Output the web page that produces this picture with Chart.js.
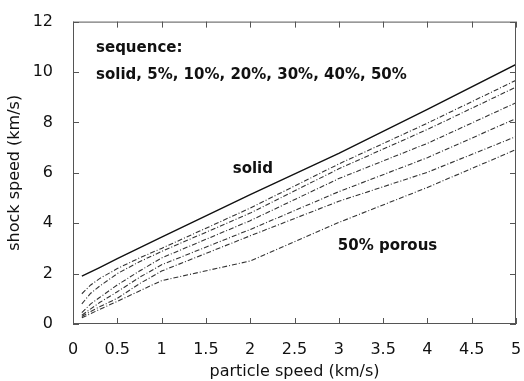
<!DOCTYPE html>
<html>
<head>
<meta charset="utf-8">
<script src="https://cdn.jsdelivr.net/npm/chart.js@4.4.0/dist/chart.umd.min.js"></script>
<style>
  html, body { margin: 0; padding: 0; background: #fff; }
  #wrap { width: 524px; height: 381px; }
</style>
</head>
<body>
<div id="wrap"><canvas id="hugoniot"></canvas></div>
<script>
// particle speed (km/s)
const particleSpeed = [0.1, 0.2, 0.3, 0.5, 0.75, 1, 2, 3, 4, 5];

// shock speed (km/s) for each porosity
const solid     = [1.90, 2.07, 2.24, 2.59, 3.02, 3.45, 5.13, 6.77, 8.52, 10.30];
const porous5   = [1.20, 1.55, 1.80, 2.20, 2.62, 3.00, 4.60, 6.35, 7.97, 9.67];
const porous10  = [0.80, 1.22, 1.50, 2.00, 2.47, 2.88, 4.40, 6.16, 7.72, 9.40];
const porous20  = [0.45, 0.80, 1.05, 1.55, 2.10, 2.62, 4.10, 5.77, 7.17, 8.78];
const porous30  = [0.35, 0.60, 0.85, 1.28, 1.85, 2.35, 3.75, 5.25, 6.60, 8.15];
const porous40  = [0.30, 0.50, 0.68, 1.02, 1.60, 2.10, 3.50, 4.87, 6.02, 7.44];
const porous50  = [0.25, 0.41, 0.58, 0.90, 1.31, 1.72, 2.50, 4.03, 5.42, 6.92];

const xTicks = [0, 0.5, 1, 1.5, 2, 2.5, 3, 3.5, 4, 4.5, 5];
const yTicks = [0, 2, 4, 6, 8, 10, 12];

const FONT = "'DejaVu Sans', sans-serif";

function toPoints(ys) {
    return particleSpeed.map((x, i) => ({ x: x, y: ys[i] }));
}

function dashedSet(ys) {
    return {
        data: toPoints(ys),
        borderColor: '#333',
        borderWidth: 1.1,
        borderDash: [5, 2, 1, 2],
        pointRadius: 0,
        tension: 0
    };
}

// frame with inward ticks on all four sides, plus the text labels
const framePlugin = {
    id: 'frame',
    afterDraw(chart) {
        const ctx = chart.ctx;
        const a = chart.chartArea;
        const xs = chart.scales.x;
        const ys = chart.scales.y;
        ctx.save();
        ctx.strokeStyle = '#555';
        ctx.lineWidth = 1;
        ctx.strokeRect(a.left + 0.5, a.top + 0.5, a.right - a.left - 1, a.bottom - a.top - 1);
        ctx.beginPath();
        xTicks.forEach(v => {
            const px = Math.round(xs.getPixelForValue(v)) + 0.5;
            ctx.moveTo(px, a.bottom); ctx.lineTo(px, a.bottom - 6);
            ctx.moveTo(px, a.top); ctx.lineTo(px, a.top + 6);
        });
        yTicks.forEach(v => {
            const py = Math.round(ys.getPixelForValue(v)) + 0.5;
            ctx.moveTo(a.left, py); ctx.lineTo(a.left + 6, py);
            ctx.moveTo(a.right, py); ctx.lineTo(a.right - 6, py);
        });
        ctx.stroke();

        ctx.fillStyle = '#111';
        ctx.font = 'bold 15px ' + FONT;
        ctx.textBaseline = 'middle';
        ctx.textAlign = 'left';
        ctx.fillText('sequence:', xs.getPixelForValue(0.26), ys.getPixelForValue(10.94));
        ctx.fillText('solid, 5%, 10%, 20%, 30%, 40%, 50%', xs.getPixelForValue(0.26), ys.getPixelForValue(9.88));
        ctx.textAlign = 'center';
        ctx.fillText('solid', xs.getPixelForValue(2.03), ys.getPixelForValue(6.14));
        ctx.fillText('50% porous', xs.getPixelForValue(3.55), ys.getPixelForValue(3.11));
        ctx.restore();
    }
};

new Chart(document.getElementById('hugoniot'), {
    type: 'line',
    data: {
        datasets: [
            {
                data: toPoints(solid),
                borderColor: '#111',
                borderWidth: 1.4,
                pointRadius: 0,
                tension: 0
            },
            dashedSet(porous5),
            dashedSet(porous10),
            dashedSet(porous20),
            dashedSet(porous30),
            dashedSet(porous40),
            dashedSet(porous50)
        ]
    },
    options: {
        responsive: true,
        maintainAspectRatio: false,
        animation: false,
        layout: { padding: { left: 0, right: 0, top: 19, bottom: 0 } },
        plugins: {
            legend: { display: false },
            tooltip: { enabled: false }
        },
        scales: {
            x: {
                type: 'linear',
                min: 0,
                max: 5,
                afterBuildTicks: s => { s.ticks = xTicks.map(v => ({ value: v })); },
                afterFit: s => { s.height = 57; s.paddingLeft = 0; s.paddingRight = 8; },
                grid: { display: false },
                border: { display: false },
                ticks: {
                    color: '#111',
                    padding: 8,
                    maxRotation: 0,
                    autoSkip: false,
                    font: { family: FONT, size: 16 },
                    callback: v => String(v)
                },
                title: {
                    display: true,
                    text: 'particle speed (km/s)',
                    color: '#111',
                    padding: { top: 2, bottom: 0 },
                    font: { family: FONT, size: 16 }
                }
            },
            y: {
                type: 'linear',
                min: 0,
                max: 12,
                afterBuildTicks: s => { s.ticks = yTicks.map(v => ({ value: v })); },
                afterFit: s => { s.width = 73; },
                grid: { display: false },
                border: { display: false },
                ticks: {
                    color: '#111',
                    padding: 12,
                    autoSkip: false,
                    font: { family: FONT, size: 16 }
                },
                title: {
                    display: true,
                    text: 'shock speed (km/s)',
                    color: '#111',
                    padding: { top: 5, bottom: 0 },
                    font: { family: FONT, size: 16 }
                }
            }
        }
    },
    plugins: [framePlugin]
});
</script>
</body>
</html>
